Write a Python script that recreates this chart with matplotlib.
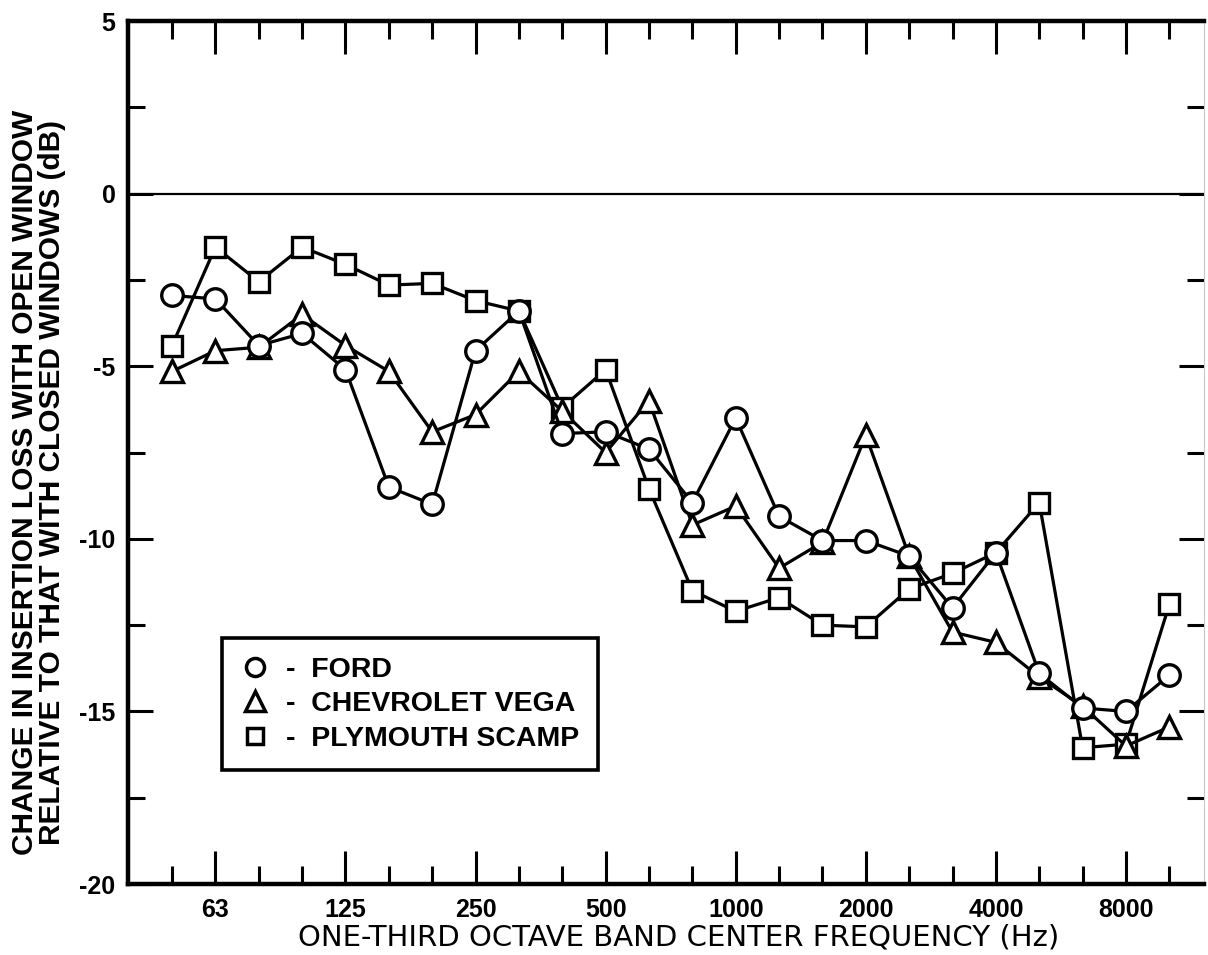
import numpy as np
import matplotlib
matplotlib.use("Agg")
import matplotlib.pyplot as plt
from matplotlib.lines import Line2D

# one-third octave band centre frequencies (Hz)
freqs = [50, 63, 80, 100, 125, 160, 200, 250, 315, 400, 500, 630,
         800, 1000, 1250, 1600, 2000, 2500, 3150, 4000, 5000, 6300, 8000, 10000]

# change in insertion loss, open window relative to closed windows (dB)
ford = [-2.95, -3.05, -4.4, -4.05, -5.1, -8.5, -9.0, -4.55, -3.4, -6.95, -6.9, -7.4,
        -8.95, -6.5, -9.35, -10.05, -10.05, -10.5, -12.0, -10.4, -13.9, -14.9, -15.0, -13.95]
vega = [-5.15, -4.55, -4.45, -3.5, -4.4, -5.15, -6.9, -6.4, -5.15, -6.3, -7.5, -6.0,
        -9.6, -9.05, -10.85, -10.1, -7.0, -10.5, -12.7, -13.0, -14.0, -14.85, -16.0, -15.45]
scamp = [-4.4, -1.55, -2.55, -1.55, -2.05, -2.65, -2.6, -3.1, -3.4, -6.2, -5.1, -8.55,
         -11.5, -12.1, -11.7, -12.5, -12.55, -11.45, -11.0, -10.4, -8.95, -16.05, -15.95, -11.9]

octave_labels = ["63", "125", "250", "500", "1000", "2000", "4000", "8000"]
y_major = [5, 0, -5, -10, -15, -20]
y_minor = [2.5, -2.5, -7.5, -12.5, -17.5]

plt.rcParams['font.family'] = ['Liberation Sans', 'DejaVu Sans']

x = np.arange(len(freqs))
oct_idx = [freqs.index(int(f)) for f in octave_labels]
third_idx = [i for i in x if i not in oct_idx]

fig = plt.figure(figsize=(12.08, 9.55), dpi=100)
ax = fig.add_axes([0.106, 0.0743, 0.8907, 0.9037])

style = dict(color='black', lw=2.3, mfc='white', mec='black', mew=2.4)
ax.plot(x, scamp, marker='s', ms=14, **style)
ax.plot(x, vega, marker='^', ms=16.5, **style)
ax.plot(x, ford, marker='o', ms=15.5, **style)

ax.axhline(0, color='black', lw=1.6, zorder=1)

ax.set_xlim(-1.015, 23.8)
ax.set_ylim(-20, 5)

ax.set_xticks(oct_idx)
ax.set_xticklabels(octave_labels)
ax.set_xticks(third_idx, minor=True)
ax.set_yticks(y_major)
ax.set_yticklabels([str(v) for v in y_major])
ax.set_yticks(y_minor, minor=True)

ax.tick_params(axis='x', which='major', direction='in', length=24, width=2.2,
               top=True, bottom=True, pad=10, labelsize=18)
ax.tick_params(axis='x', which='minor', direction='in', length=13, width=2.2,
               top=True, bottom=True)
ax.tick_params(axis='y', which='major', direction='in', length=18, width=2.2,
               left=True, right=True, pad=9, labelsize=18)
ax.tick_params(axis='y', which='minor', direction='in', length=12, width=2.2,
               left=True, right=True)
for lbl in ax.get_xticklabels() + ax.get_yticklabels():
    lbl.set_fontweight('bold')

for side in ['left', 'top', 'bottom']:
    ax.spines[side].set_linewidth(3.2)
ax.spines['right'].set_linewidth(0.8)
ax.spines['right'].set_color('#c8c8c8')

ax.set_xlabel("ONE-THIRD OCTAVE BAND CENTER FREQUENCY (Hz)",
              fontsize=21, family='DejaVu Sans')
ax.xaxis.set_label_coords(0.512, -0.046)
fig.text(0.0315, 0.495,
         "CHANGE IN INSERTION LOSS WITH OPEN WINDOW\nRELATIVE TO THAT WITH CLOSED WINDOWS (dB)",
         rotation=90, ha='center', va='center', fontsize=21.5, fontweight='bold',
         linespacing=0.95, multialignment='center')

handles = [
    Line2D([], [], ls='none', marker='o', ms=13, mfc='white', mec='black', mew=2.5),
    Line2D([], [], ls='none', marker='^', ms=14, mfc='white', mec='black', mew=2.5),
    Line2D([], [], ls='none', marker='s', ms=12, mfc='white', mec='black', mew=2.5),
]
labels = ["-  FORD", "-  CHEVROLET VEGA", "-  PLYMOUTH SCAMP"]
leg = ax.legend(handles, labels, loc='upper left', bbox_to_anchor=(0.0874, 0.285),
                borderaxespad=0, fancybox=False, edgecolor='black', framealpha=1,
                prop={'weight': 'bold', 'size': 20.5}, handlelength=1.0,
                handletextpad=0.6, labelspacing=0.3, borderpad=0.65)
leg.get_frame().set_linewidth(2.6)

fig.savefig("out.png", dpi=100, facecolor='white')
